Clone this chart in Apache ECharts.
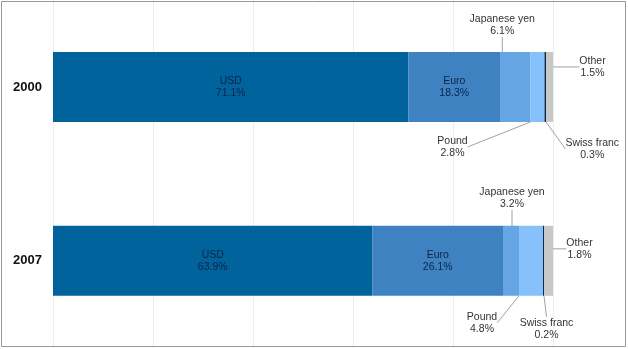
<!DOCTYPE html>
<html><head><meta charset="utf-8">
<script src="https://cdn.jsdelivr.net/npm/echarts@6/dist/echarts.min.js"></script>
<style>html,body{margin:0;padding:0;background:#fff}#c{width:628px;height:349px}</style>
</head><body><div id="c"></div>
<script>
const years = ['2000', '2007'];
const currencies = ['USD', 'Euro', 'Japanese yen', 'Pound', 'Swiss franc', 'Other'];
const usd = [71.1, 63.9];
const euro = [18.3, 26.1];
const yen = [6.1, 3.2];
const pound = [2.8, 4.8];
const swiss = [0.3, 0.2];
const other = [1.5, 1.8];
const xTicks = [0, 20, 40, 60, 80, 100];

const values = [usd, euro, yen, pound, swiss, other];
const colors = ['#00639c', '#3f82c2', '#65a5e3', '#86c1fb', '#0b2c52', '#c8c8c8'];
// label offsets from segment centre for outside labels [2000, 2007]
const offsets = {
  'Japanese yen': [[-13, -62], [1, -63]],
  'Pound': [[-85, 60], [-49, 62]],
  'Swiss franc': [[47, 62], [3, 68]],
  'Other': [[43, -20], [31, -12]]
};
const fontFam = '"Liberation Sans", Arial, sans-serif';

const series = currencies.map((name, i) => {
  const inside = i < 2;
  const s = {
    name, type: 'bar', stack: 'total', barWidth: 70,
    data: values[i],
    itemStyle: { color: colors[i] },
    label: {
      show: true,
      position: 'inside',
      formatter: '{a}\n{c}%',
      color: inside ? '#0a2444' : '#333',
      fontSize: 10.5, lineHeight: 12, fontFamily: fontFam
    }
  };
  if (!inside) {
    s.labelLine = { show: true, lineStyle: { color: '#a0a0a0', width: 1 } };
    s.labelLayout = function (p) {
      const o = offsets[name][p.dataIndex];
      const r = p.rect;
      return { x: r.x + r.width / 2 + o[0], y: r.y + r.height / 2 + o[1], align: 'center', verticalAlign: 'middle', hideOverlap: false };
    };
  }
  return s;
});

const chart = echarts.init(document.getElementById('c'));
chart.setOption({
  animation: false,
  grid: { left: 53, right: 75, top: -1.25, bottom: 1.25, containLabel: false },
  xAxis: {
    type: 'value', min: xTicks[0], max: xTicks[xTicks.length - 1], interval: xTicks[1] - xTicks[0],
    axisLabel: { show: false }, axisLine: { show: false }, axisTick: { show: false },
    splitLine: { show: true, lineStyle: { color: '#ececec', width: 1 } }
  },
  yAxis: {
    type: 'category', data: years, inverse: true,
    axisLine: { show: false }, axisTick: { show: false },
    axisLabel: { fontWeight: 'bold', fontSize: 13, color: '#111', margin: 11, fontFamily: fontFam }
  },
  series,
  graphic: [
    { type: 'rect', shape: { x: 1.5, y: 1.5, width: 624, height: 345 }, style: { fill: 'none', stroke: '#9a9a9a', lineWidth: 1 }, silent: true, z: 100 }
  ]
});
</script></body></html>
